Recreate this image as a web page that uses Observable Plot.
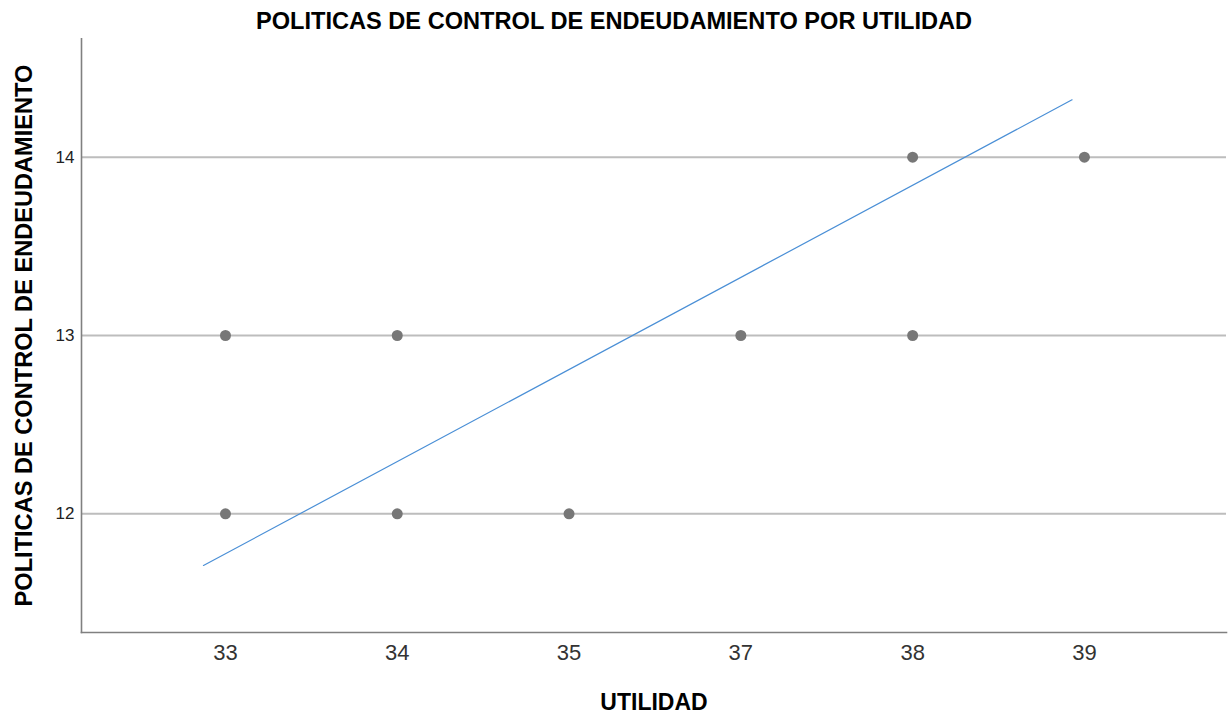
<!DOCTYPE html>
<html>
<head>
<meta charset="utf-8">
<script src="https://cdn.jsdelivr.net/npm/d3@7"></script>
<script src="https://cdn.jsdelivr.net/npm/@observablehq/plot@0.6"></script>
<style>
  html, body { margin: 0; padding: 0; background: #fff; }
  #title {
    box-sizing: border-box; width: 1228px; height: 38px; padding-top: 10px;
    font: bold 23.6px "Liberation Sans", Arial, sans-serif; line-height: 23px;
    text-align: center; color: #000;
  }
  svg { display: block; }
</style>
</head>
<body>
<div id="title">POLITICAS DE CONTROL DE ENDEUDAMIENTO POR UTILIDAD</div>
<div id="chart"></div>
<script>
// Categories on the x axis (equally spaced)
const utilidadCategories = ["33", "34", "35", "37", "38", "39"];
// Observations
const utilidad = [33, 33, 34, 34, 35, 37, 38, 38, 39];
const politicas = [13, 12, 13, 12, 12, 13, 14, 13, 14];
// Y tick values
const yTicks = [12, 13, 14];
// Fit line endpoints (x in category-position units, y in value units)
const fitX = [-0.128, 4.928];
const fitY = [11.71, 14.322];

const points = utilidad.map((u, i) => ({
  xi: utilidadCategories.indexOf(String(u)),
  y: politicas[i]
}));
const fitLine = fitX.map((x, i) => ({x, y: fitY[i]}));
const xIdx = utilidadCategories.map((d, i) => i);

const font = '"Liberation Sans", Arial, sans-serif';

const chart = Plot.plot({
  width: 1228,
  height: 677,
  marginTop: 0,
  marginBottom: 83,
  marginLeft: 81,
  marginRight: 2,
  style: {fontFamily: font, background: "#fff"},
  x: {type: "linear", domain: [-0.838, 5.827]},
  y: {domain: [11.334, 14.666]},
  marks: [
    Plot.ruleY(yTicks, {stroke: "#bdbdbd", strokeWidth: 2}),
    Plot.frame({anchor: "left", stroke: "#808080", strokeWidth: 1.6}),
    Plot.frame({anchor: "bottom", stroke: "#808080", strokeWidth: 1.6}),
    Plot.axisY({ticks: yTicks, tickSize: 0, tickPadding: 7, fontSize: 17, label: null, fill: "#222",
      tickFormat: d => String(d)}),
    Plot.axisX({ticks: xIdx, tickSize: 0, tickPadding: 12, fontSize: 22, label: null,
      tickFormat: i => utilidadCategories[i], fill: "#333"}),
    Plot.line(fitLine, {x: "x", y: "y", stroke: "#4a8fd6", strokeWidth: 1.2}),
    Plot.dot(points, {x: "xi", y: "y", r: 5.5, fill: "#777", stroke: "none"}),
    Plot.text(["UTILIDAD"], {frameAnchor: "bottom", dy: 70, lineAnchor: "middle",
      fontSize: 23, fontWeight: "bold", fill: "#000"}),
    Plot.text(["POLITICAS DE CONTROL DE ENDEUDAMIENTO"], {frameAnchor: "left", dx: -57, rotate: -90,
      textAnchor: "middle", lineAnchor: "middle", fontSize: 23.6, fontWeight: "bold", fill: "#000"})
  ]
});
document.getElementById("chart").appendChild(chart);
</script>
</body>
</html>
